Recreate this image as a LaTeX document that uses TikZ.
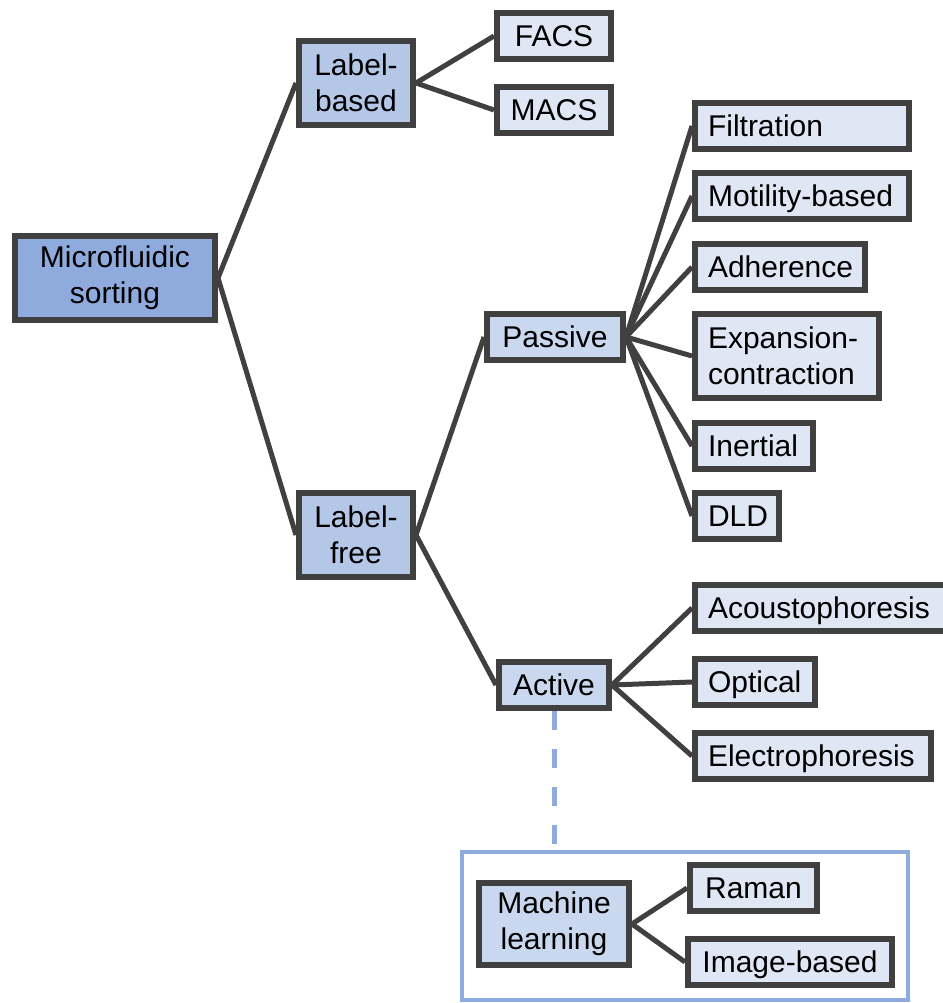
\documentclass[tikz,border=0pt]{standalone}
\usepackage{fontspec}
\setmainfont{Liberation Sans}
\definecolor{rootc}{HTML}{8FAADC}
\definecolor{midc}{HTML}{B4C7E7}
\definecolor{subc}{HTML}{CAD8EF}
\definecolor{leafc}{HTML}{DFE7F5}
\definecolor{edge}{HTML}{404040}
\definecolor{mlc}{HTML}{8FAADC}

\begin{document}
\begin{tikzpicture}[
    x=1pt, y=-1pt,
    box/.style={draw=edge, line width=6pt, font=\fontsize{30}{36}\selectfont,
                inner sep=0pt, align=center},
    root/.style={box, fill=rootc, minimum width=200pt, minimum height=84pt},
    mid/.style={box, fill=midc, minimum width=114pt, minimum height=84pt},
    sub/.style={box, fill=subc, minimum height=46pt},
    tip/.style={box, fill=leafc, minimum height=46pt},
    leaf/.style={box, fill=leafc, anchor=west, align=left, inner xsep=13pt,
                 text width=#1, minimum height=46pt},
    oneline/.style={text height=21pt, text depth=0pt},
    link/.style={draw=edge, line width=5pt},
    dashlink/.style={draw=mlc, line width=5pt, dash pattern=on 19pt off 19pt},
    frame/.style={draw=mlc, line width=4pt, minimum width=446pt, minimum height=148pt},
]
    \useasboundingbox (0,0) rectangle (942,1003);

    % Root and first split
    \node[root] (sorting) at (115,278) {Microfluidic\\sorting};
    \node[mid] (lbased) at (356,83) {Label-\\based};
    \node[mid] (lfree) at (356,535) {Label-\\free};

    % Label-based methods
    \node[tip, oneline, minimum width=114pt] (facs) at (554,36) {FACS};
    \node[tip, oneline, minimum width=114pt] (macs) at (554,110) {MACS};

    % Label-free: passive and active
    \node[sub, oneline, minimum width=136pt] (passive) at (555,337) {Passive};
    \node[sub, oneline, minimum width=110pt] (active) at (554,685) {Active};

    % Passive methods
    \node[leaf=188pt, oneline] (filtr) at (692,126) {Filtration};
    \node[leaf=188pt, oneline] (motil) at (692,196) {Motility-based};
    \node[leaf=144pt, oneline] (adher) at (692,267) {Adherence};
    \node[leaf=158pt, minimum height=84pt] (expan) at (692,356) {Expansion-\\contraction};
    \node[leaf=92pt, oneline] (inert) at (692,446) {Inertial};
    \node[leaf=58pt, oneline] (dld) at (692,516) {DLD};

    % Active methods
    \node[leaf=226pt, oneline] (acous) at (692,608) {Acoustophoresis};
    \node[leaf=94pt, oneline] (optic) at (692,682) {Optical};
    \node[leaf=210pt, oneline] (elect) at (692,756) {Electrophoresis};

    % Machine learning inset
    \node[frame] (mlbox) at (685,926) {};
    \node[sub, minimum width=150pt, minimum height=82pt] (ml) at (554,924) {Machine\\learning};
    \node[tip, oneline, minimum width=127pt] (raman) at (753.5,888) {Raman};
    \node[tip, oneline, minimum width=204pt] (image) at (790,962) {Image-based};

    % Links
    \draw[link] (sorting.east) -- (lbased.west);
    \draw[link] (sorting.east) -- (lfree.west);
    \draw[link] (lbased.east) -- (facs.west);
    \draw[link] (lbased.east) -- (macs.west);
    \draw[link] (lfree.east) -- (passive.west);
    \draw[link] (lfree.east) -- (active.west);
    \foreach \m in {filtr, motil, adher, expan, inert, dld}
        \draw[link] (passive.east) -- (\m.west);
    \foreach \m in {acous, optic, elect}
        \draw[link] (active.east) -- (\m.west);
    \draw[link] (ml.east) -- (raman.west);
    \draw[link] (ml.east) -- (image.west);
    \draw[dashlink] (active.south) -- (active.south |- mlbox.north);
\end{tikzpicture}
\end{document}
